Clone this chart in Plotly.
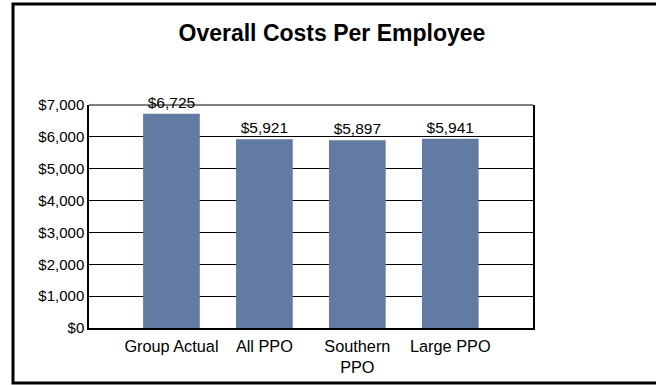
import plotly.graph_objects as go

# Overall cost per employee by comparison group
categories = ["Group Actual", "All PPO", "Southern<br>PPO", "Large PPO"]
costs = [6725, 5921, 5897, 5941]
y_ticks = [0, 1000, 2000, 3000, 4000, 5000, 6000, 7000]
y_tick_labels = ["$0", "$1,000", "$2,000", "$3,000", "$4,000", "$5,000", "$6,000", "$7,000"]

positions = list(range(len(categories)))
FONT = "Liberation Sans, Arial, sans-serif"

fig = go.Figure(
    go.Bar(
        x=positions,
        y=costs,
        width=0.61,
        marker=dict(color="#627BA3", line=dict(width=0)),
        text=[f"${v:,}" for v in costs],
        textposition="outside",
        textfont=dict(family=FONT, size=15.5, color="#000000"),
        cliponaxis=False,
        hoverinfo="skip",
    )
)

fig.update_layout(
    width=656,
    height=385,
    margin=dict(l=89, r=123, t=105, b=57, autoexpand=False),
    paper_bgcolor="#ffffff",
    plot_bgcolor="#ffffff",
    showlegend=False,
    font=dict(family=FONT, size=15, color="#000000"),
    title=dict(
        text="<b>Overall Costs Per Employee</b>",
        x=0.506,
        xanchor="center",
        y=1 - 33 / 385,
        yanchor="middle",
        yref="container",
        automargin=False,
        font=dict(family=FONT, size=23, color="#000000"),
    ),
    xaxis=dict(
        range=[-0.887, 3.89],
        tickvals=positions,
        ticktext=categories,
        showgrid=False,
        showline=True,
        linecolor="#000000",
        linewidth=2,
        mirror=False,
        ticks="",
        ticklabelstandoff=2,
        tickfont=dict(family=FONT, size=16.3, color="#000000"),
        zeroline=False,
        automargin=False,
        fixedrange=True,
    ),
    yaxis=dict(
        range=[0, 7000],
        tickvals=y_ticks,
        ticktext=y_tick_labels,
        showgrid=True,
        gridcolor="#000000",
        gridwidth=1,
        showline=True,
        linecolor="#000000",
        linewidth=1.5,
        mirror=True,
        ticks="",
        zeroline=False,
        automargin=False,
        tickfont=dict(family=FONT, size=15, color="#000000"),
        fixedrange=True,
    ),
    shapes=[
        # outer frame around the whole chart (runs past the right edge)
        dict(
            type="rect",
            xref="paper",
            yref="paper",
            x0=(13 - 89) / 444,
            x1=(670 - 89) / 444,
            y0=(328 - 383) / 223,
            y1=(328 - 4) / 223,
            line=dict(color="#000000", width=3),
            fillcolor="rgba(0,0,0,0)",
            layer="below",
        ),
        # top edge of the plot area at the $7,000 line
        dict(
            type="line",
            xref="paper",
            yref="paper",
            x0=0,
            x1=1,
            y0=1,
            y1=1,
            line=dict(color="#000000", width=1),
            layer="below",
        ),
    ],
)

fig.write_html("out.html")
